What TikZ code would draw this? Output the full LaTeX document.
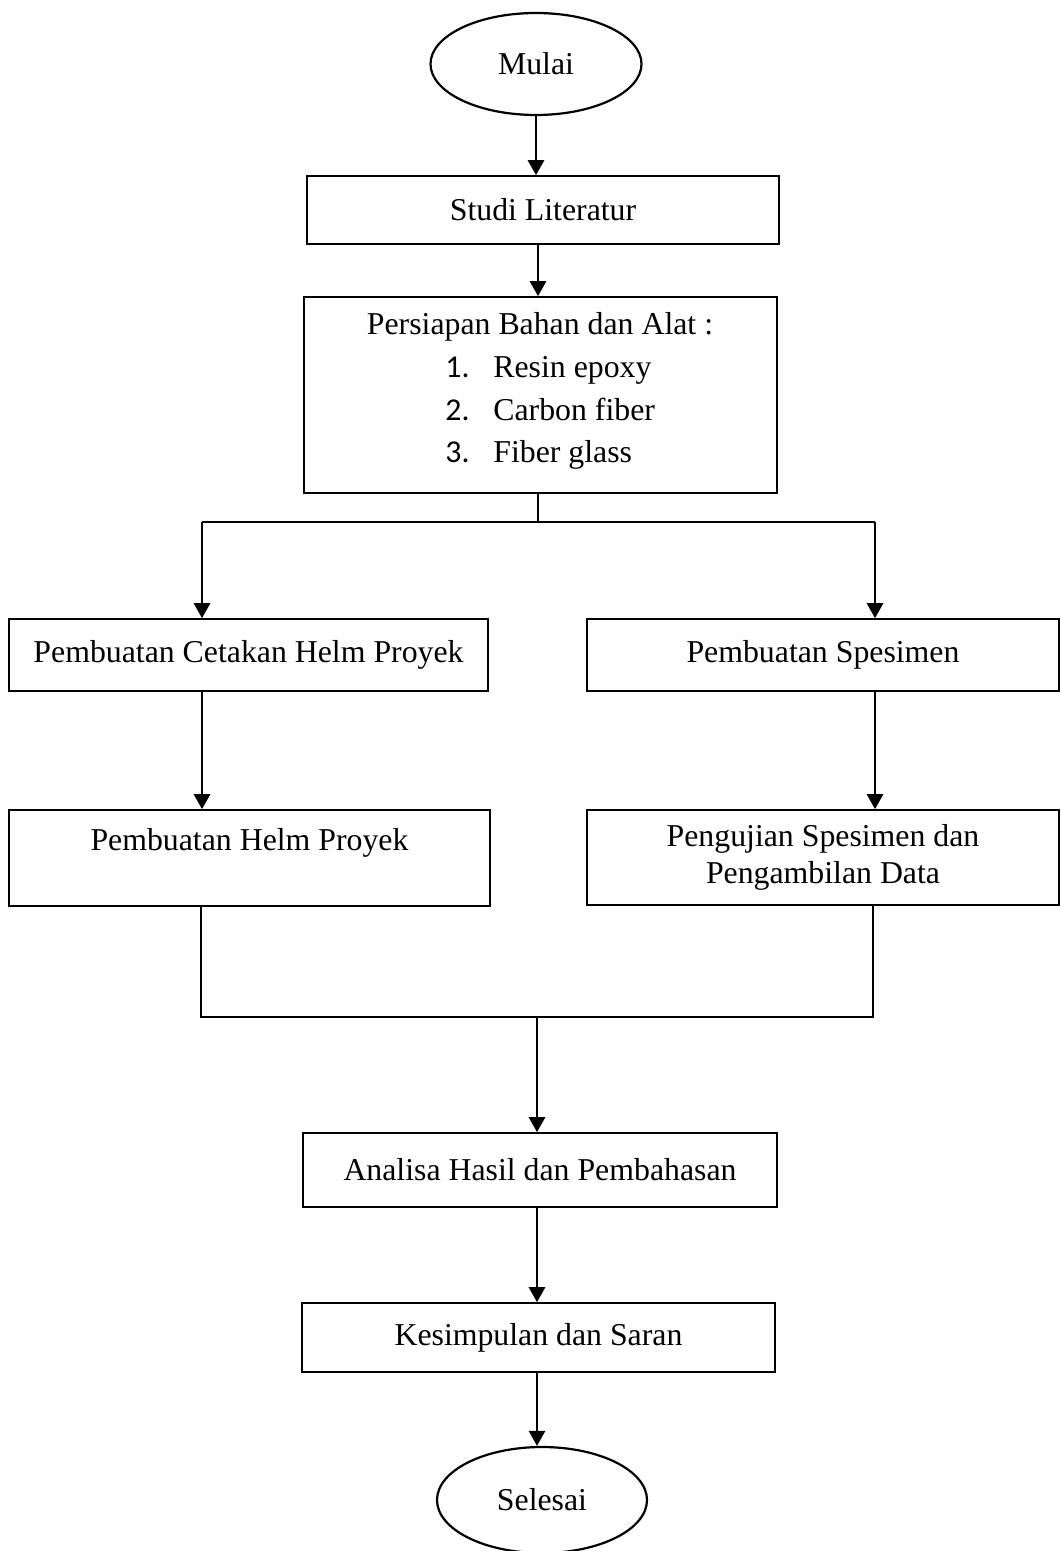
\documentclass[tikz,border=0pt]{standalone}
\usepackage{fontspec}
\setmainfont{Liberation Serif}
\newfontfamily\numfont{Carlito}
\usetikzlibrary{shapes.geometric,arrows.meta}
\begin{document}
\begin{tikzpicture}[x=0.5pt,y=-0.5pt,
  every node/.style={font=\fontsize{15.9}{18.5}\selectfont},
  box/.style={draw,line width=0.8pt,rectangle,inner sep=0pt,align=center},
  term/.style={draw,line width=1.1pt,ellipse,inner sep=0pt},
  arr/.style={line width=1.3pt,-{Triangle[length=7.5pt,width=8pt]}},
  link/.style={line width=0.7pt},
  item/.style={anchor=base west,inner sep=0pt}]
\useasboundingbox (0,0) rectangle (1060,1551);

\node[term,minimum width=105.5pt,minimum height=51pt] (mulai) at (536,64) {Mulai};
\node[box,minimum width=236pt,minimum height=34pt] (studi) at (543,210) {Studi Literatur};
\node[box,minimum width=236.5pt,minimum height=98pt] (prep) at (540.5,395) {};
\node[anchor=base,inner sep=0pt] (prephead) at (540,335) {Persiapan Bahan dan Alat :};
\node[item] (item1) at (445,378) {\makebox[24pt][l]{\numfont 1.}Resin epoxy};
\node[item] (item2) at (445,420) {\makebox[24pt][l]{\numfont 2.}Carbon fiber};
\node[item] (item3) at (445,462) {\makebox[24pt][l]{\numfont 3.}Fiber glass};

\node[box,minimum width=239.5pt,minimum height=36pt] (left1) at (248.5,655) {Pembuatan Cetakan Helm Proyek};
\node[box,minimum width=236pt,minimum height=36pt] (right1) at (823,655) {Pembuatan Spesimen};
\node[box,minimum width=240.5pt,minimum height=48pt] (left2) at (249.5,858) {Pembuatan Helm Proyek\\\mbox{}};
\node[box,minimum width=236pt,minimum height=47.5pt] (right2) at (823,857.5) {Pengujian Spesimen dan\\Pengambilan Data};

\node[box,minimum width=237pt,minimum height=37pt] (analisa) at (540,1170) {Analisa Hasil dan Pembahasan};
\node[box,minimum width=236.5pt,minimum height=34.5pt] (kesimpulan) at (538.5,1337.5) {Kesimpulan dan Saran};
\node[term,minimum width=105pt,minimum height=53pt] (selesai) at (542,1500) {Selesai};

\coordinate (split) at (538,522);
\coordinate (splitL) at (202,522);
\coordinate (splitR) at (875,522);
\coordinate (merge) at (537,1017);
\coordinate (mergeL) at (201,1017);
\coordinate (mergeR) at (873,1017);

\draw[arr] (mulai.south) -- (mulai.south |- studi.north);
\draw[arr] (studi.south -| split) -- (split |- prep.north);
\draw[link] (prep.south -| split) -- (split);
\draw[link] (splitL) -- (splitR);
\draw[arr] (splitL) -- (splitL |- left1.north);
\draw[arr] (splitR) -- (splitR |- right1.north);
\draw[arr] (splitL |- left1.south) -- (splitL |- left2.north);
\draw[arr] (splitR |- right1.south) -- (splitR |- right2.north);
\draw[link] (mergeL |- left2.south) -- (mergeL) -- (mergeR) -- (mergeR |- right2.south);
\draw[arr] (merge) -- (merge |- analisa.north);
\draw[arr] (analisa.south -| merge) -- (merge |- kesimpulan.north);
\draw[arr] (kesimpulan.south -| merge) -- (selesai.north -| merge);
\end{tikzpicture}
\end{document}
